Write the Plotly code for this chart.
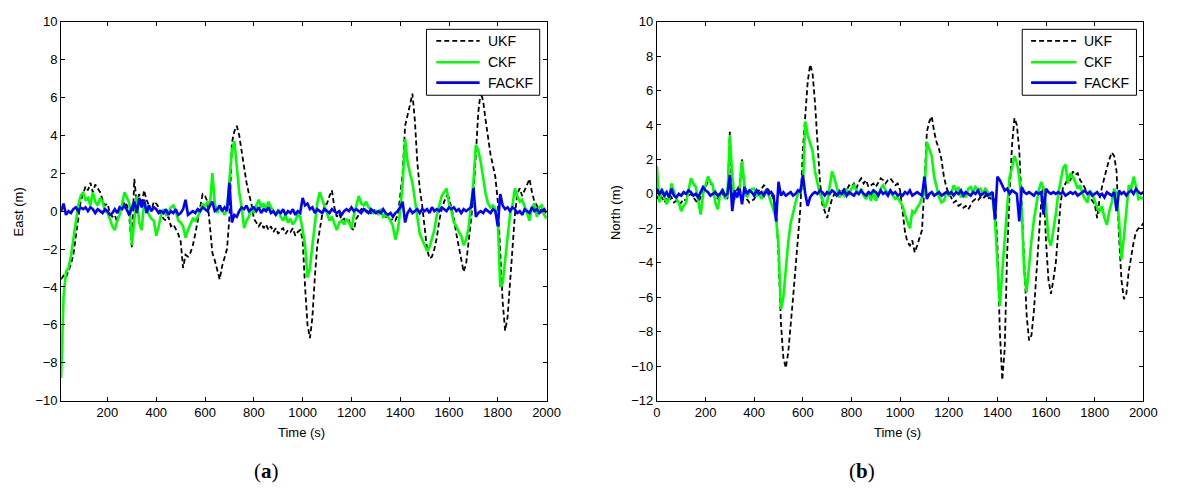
import plotly.graph_objects as go

# ---------------- data ----------------
T_EAST = list(range(10, 2001, 10))
T_NORTH = list(range(0, 2001, 10))

EAST_UKF = [
 -3.6,-3.4,-3.5,-3.2,-2.8,-2.3,-1.4,-0.3,0.5,0.9,
 1.3,1.1,1.5,1.0,1.4,1.2,1.0,0.6,0.3,0.4,
 -0.1,-0.3,-0.2,-0.6,0.1,0.2,0.5,0.3,-0.4,-1.9,
 1.7,0.4,0.9,0.3,1.1,0.6,0.3,0.0,0.5,0.4,
 0.2,-0.2,-0.4,-0.5,-0.3,-0.8,-0.7,-1.0,-1.2,-1.6,
 -3.0,-2.3,-2.4,-2.2,-1.8,-1.2,-0.5,0.2,0.9,0.8,
 0.5,-0.8,-2.2,-2.6,-3.1,-3.6,-2.9,-2.5,-2.0,-0.3,
 3.6,4.2,4.5,4.0,3.2,2.2,1.5,0.9,0.4,-0.4,
 -0.6,-0.8,-0.6,-0.9,-0.7,-1.0,-0.8,-1.1,-0.9,-1.2,
 -1.0,-0.9,-1.2,-1.0,-1.1,-0.9,-1.3,-1.1,-1.0,-1.5,
 -4.0,-6.0,-6.7,-5.6,-3.5,-1.8,-1.0,-0.2,0.3,0.4,
 0.8,1.1,0.2,-0.3,-0.1,-0.5,-0.4,-0.6,-0.5,-0.9,
 -1.0,-0.4,-0.2,0.1,0.2,0.0,0.1,-0.1,0.1,0.0,
 -0.1,0.1,-0.2,-0.3,-0.3,-0.5,-0.4,-0.5,-0.2,0.8,
 2.0,4.5,5.0,5.6,6.2,4.8,2.6,1.2,0.3,-1.0,
 -2.0,-2.5,-2.4,-2.0,-1.4,-0.5,0.1,0.5,0.8,0.7,
 0.2,-0.4,-1.2,-1.9,-2.4,-3.2,-2.8,-1.8,-0.5,0.8,
 3.0,5.2,6.3,5.8,4.8,3.8,3.0,2.4,1.8,0.5,
 -2.0,-4.8,-6.3,-5.6,-3.8,-2.2,-0.2,0.9,1.2,0.8,
 1.1,1.4,1.7,1.0,0.5,0.3,0.0,0.1,-0.2,-0.3,
]

EAST_CKF = [
 -8.8,-4.5,-3.2,-3.0,-2.4,-1.5,-0.4,0.3,0.8,1.0,
 0.6,0.7,0.3,1.0,0.5,0.3,0.7,0.5,0.0,-0.1,
 -0.4,-0.8,-1.0,-0.5,-0.2,0.5,1.0,0.7,0.4,-1.8,
 -0.5,0.8,-0.6,-1.0,0.5,0.2,-0.2,-0.4,-0.5,-1.3,
 -0.8,-0.2,0.1,-0.2,-0.1,0.2,0.3,0.0,-0.5,-0.6,
 -0.8,-1.4,-1.0,-0.7,-0.4,-0.5,-0.3,0.0,0.4,0.2,
 0.5,0.3,2.0,0.4,-0.1,0.3,0.0,-0.2,0.1,1.5,
 3.2,3.7,2.2,1.0,0.2,-0.9,-0.5,-0.3,0.2,-0.1,
 0.3,0.6,0.2,0.4,0.1,0.5,0.2,0.0,-0.2,0.1,
 -0.3,-0.5,-0.2,-0.6,-0.4,-0.7,-0.5,-0.2,-0.3,-1.0,
 -1.8,-3.5,-3.0,-1.8,-0.5,0.4,1.0,0.6,0.2,-0.1,
 -0.5,-0.3,-0.7,-1.0,-0.6,-0.5,-0.7,-0.4,-0.6,-0.9,
 -0.2,0.3,0.8,0.4,0.3,0.5,0.2,0.1,-0.1,0.0,
 -0.2,0.1,-0.3,-0.2,-0.3,-0.5,-0.8,-1.5,-1.0,0.0,
 1.5,3.8,2.6,2.0,1.5,0.6,-0.2,-1.2,-1.5,-1.8,
 -2.1,-1.9,-1.5,-1.0,-0.2,0.3,0.8,1.0,1.2,0.4,
 0.0,-0.6,-0.8,-1.1,-1.3,-1.8,-1.5,-0.9,0.2,1.5,
 3.5,3.2,2.6,1.6,0.9,0.4,0.2,0.3,0.1,-0.5,
 -4.0,-3.8,-2.6,-1.2,-0.2,0.3,1.2,0.8,0.5,0.6,
 0.3,-0.1,-0.5,0.2,0.4,-0.3,0.2,0.3,-0.2,-0.4,
]

EAST_FACKF = [
 0.0,0.4,-0.2,0.0,-0.1,0.1,0.2,0.0,0.2,0.1,
 0.2,0.0,0.2,0.1,-0.1,0.1,0.0,-0.1,0.1,0.0,
 -0.2,-0.1,0.1,-0.1,0.2,0.1,0.3,0.0,-0.2,0.2,
 0.5,-0.1,0.7,0.2,0.6,-0.1,0.3,0.0,0.2,0.1,
 -0.1,0.0,-0.1,0.1,-0.2,0.0,-0.1,0.1,-0.2,-0.1,
 0.1,0.6,-0.2,-0.1,0.0,-0.1,0.1,0.0,0.2,0.1,
 0.0,0.3,0.5,0.0,0.1,0.3,0.0,0.2,0.0,1.5,
 -0.6,-0.2,-0.3,0.0,0.2,0.1,0.3,0.0,0.1,0.2,
 0.0,0.2,-0.1,0.1,0.0,0.2,-0.1,0.0,-0.2,0.0,
 -0.1,0.1,-0.2,0.0,-0.1,0.1,-0.2,0.0,-0.1,0.7,
 0.3,0.4,0.1,0.2,-0.1,0.1,0.0,-0.1,0.1,0.0,
 -0.1,0.1,0.0,-0.1,0.0,-0.2,0.0,0.1,0.0,0.2,
 0.0,0.1,0.0,-0.1,0.1,0.0,-0.1,0.1,0.0,-0.1,
 0.0,-0.1,0.1,-0.1,-0.2,-0.1,-0.3,-0.1,0.0,0.2,
 0.5,-0.6,-0.1,0.1,-0.1,0.0,0.1,-0.1,0.1,0.0,
 0.1,-0.1,0.2,0.0,0.1,0.0,0.2,0.1,0.0,0.2,
 0.1,0.2,0.0,0.1,-0.1,0.1,0.0,0.1,0.2,1.2,
 -0.3,-0.1,0.0,-0.1,0.1,0.0,-0.1,0.1,0.0,-0.8,
 0.9,0.3,0.1,0.2,0.0,0.2,0.1,-0.1,0.0,-0.2,
 0.1,0.0,-0.1,0.2,0.0,0.1,-0.1,0.0,0.1,-0.1,
]

NORTH_UKF = [
 -0.3,0.0,-0.2,-0.5,-0.3,-0.4,-0.2,-0.5,-0.4,-0.6,
 -0.5,-0.3,-0.4,-0.1,0.0,-0.2,-0.4,-0.5,-0.2,0.0,
 0.4,0.7,0.6,0.5,0.1,-0.3,-0.1,0.0,-0.2,-0.3,
 3.6,-0.3,0.0,0.3,0.5,2.0,0.3,-0.3,-0.5,-0.4,
 -0.3,0.0,0.2,0.3,0.5,0.4,0.2,0.0,-0.3,-0.8,
 -3.5,-7.5,-9.5,-10.1,-9.2,-7.8,-6.0,-4.3,-2.5,-0.8,
 2.5,4.8,6.5,7.5,7.0,5.3,3.0,0.8,-0.6,-1.0,
 -1.4,-0.8,-0.3,0.0,-0.1,0.2,0.1,0.3,0.2,0.5,
 0.4,0.6,0.3,0.7,0.9,0.6,0.8,0.4,0.5,0.6,
 0.4,0.7,0.9,0.8,0.6,0.8,0.9,0.7,0.5,0.6,
 0.2,-1.0,-2.2,-2.8,-3.0,-2.7,-3.4,-3.0,-2.5,-2.1,
 0.5,3.6,4.2,4.5,3.6,3.0,2.6,2.0,1.0,0.4,
 0.0,-0.2,-0.5,-0.4,-0.7,-0.6,-0.8,-0.7,-0.9,-0.6,
 -0.4,-0.3,-0.4,-0.2,-0.3,-0.1,-0.3,-0.2,-0.4,-0.3,
 -3.0,-8.0,-10.8,-9.0,-3.5,0.0,2.8,4.4,4.0,2.5,
 -0.8,-4.0,-7.0,-8.5,-8.2,-6.8,-4.5,-2.2,-0.5,0.4,
 -2.8,-5.0,-5.8,-5.0,-4.0,-2.2,-0.5,0.4,0.6,0.9,
 0.8,1.3,1.1,1.2,0.8,0.6,0.3,0.0,-0.2,-0.4,
 -0.6,-1.4,-0.3,0.4,1.0,1.5,2.0,2.4,2.2,1.3,
 -2.5,-5.0,-6.1,-5.8,-4.5,-3.5,-2.8,-2.2,-2.0,-1.9,
 -1.7,
]

NORTH_CKF = [
 1.6,-0.5,0.3,0.0,-0.6,-0.3,0.6,0.2,-0.3,-0.5,
 -1.0,-0.7,-0.5,0.2,0.9,0.6,0.4,-0.4,-1.2,0.0,
 0.5,1.0,0.7,0.5,-0.5,-0.9,0.0,0.3,-0.3,-0.1,
 3.4,1.0,-0.3,0.0,0.2,1.9,0.5,-0.2,0.1,0.3,
 0.3,-0.1,0.0,-0.3,0.1,0.2,-0.1,-0.5,-0.9,-1.4,
 -3.0,-6.7,-6.0,-4.2,-2.8,-1.7,-1.0,-0.5,0.0,0.3,
 0.3,4.2,3.4,3.0,2.5,1.3,0.6,0.0,-0.3,-0.8,
 -0.5,0.4,1.3,0.9,0.4,-0.2,0.1,-0.1,0.2,0.0,
 0.3,0.5,0.2,0.0,0.3,-0.1,-0.3,0.1,-0.4,0.2,
 -0.4,0.0,0.3,0.5,0.2,0.1,0.1,-0.1,-0.3,-0.2,
 -0.5,-0.7,-1.2,-1.6,-2.0,-1.0,-1.1,-0.8,-0.6,-0.2,
 0.0,3.0,2.6,2.2,1.0,0.4,-0.2,-0.5,-0.4,0.1,
 -0.1,0.0,0.5,0.2,0.4,-0.2,0.1,-0.2,0.3,0.4,
 0.1,0.4,0.2,0.3,0.0,0.3,0.1,-0.1,-0.2,-1.5,
 -4.0,-6.5,-4.5,-2.5,-1.0,1.0,1.5,2.2,1.8,1.0,
 -1.0,-4.5,-5.7,-4.0,-2.7,-1.5,-0.5,0.2,0.7,0.3,
 -0.8,-2.6,-3.0,-2.2,-1.2,0.0,0.8,1.5,1.7,0.6,
 1.2,1.0,0.7,0.3,0.5,0.0,-0.3,-0.5,0.2,0.0,
 -0.4,-0.8,-1.0,-0.7,-1.4,-1.8,-1.0,-0.5,0.3,0.0,
 -1.5,-3.8,-2.5,-1.0,0.5,0.3,1.0,0.4,-0.3,-0.2,
 -0.3,
]

NORTH_FACKF = [
 0.3,0.0,0.2,-0.1,0.1,-0.2,0.3,-0.1,-0.2,0.0,
 -0.1,0.1,0.0,0.2,0.1,-0.1,0.0,-0.2,0.1,0.4,
 0.2,0.1,-0.1,0.0,0.1,-0.1,0.0,0.2,-0.1,0.0,
 1.1,-1.0,0.2,-0.2,0.3,-0.6,0.4,0.0,0.2,0.1,
 -0.1,0.2,0.0,0.1,-0.1,0.2,0.0,0.1,-0.1,-1.6,
 0.7,-0.1,0.1,-0.1,0.0,0.1,-0.1,0.0,0.2,0.1,
 1.1,0.0,-0.7,-0.2,0.0,0.1,0.0,0.2,0.1,-0.1,
 0.1,0.0,0.2,0.1,-0.1,0.1,0.0,0.2,-0.1,0.1,
 0.0,-0.1,0.1,0.0,0.2,0.0,-0.1,0.1,0.0,0.2,
 0.1,-0.1,0.2,0.0,0.1,-0.1,0.2,0.0,0.1,-0.1,
 0.0,-0.1,0.1,0.0,0.2,-0.1,0.0,0.1,0.0,-0.1,
 1.0,-0.3,0.0,0.1,-0.1,0.0,0.1,-0.1,0.0,0.1,
 0.0,0.1,-0.1,0.1,0.0,0.2,-0.1,0.1,0.0,-0.1,
 0.1,0.0,0.2,-0.1,0.0,0.1,-0.1,0.0,0.1,-1.5,
 1.0,0.8,0.5,0.2,0.3,0.0,0.2,0.1,0.0,-1.6,
 0.4,0.1,0.0,0.1,0.0,-0.1,0.1,0.0,0.1,-1.2,
 0.3,0.1,0.0,0.1,0.0,0.1,0.0,0.1,-0.1,0.0,
 0.1,0.0,0.1,-0.1,0.0,0.1,0.2,0.0,0.1,-0.1,
 0.0,0.1,-0.1,0.0,-0.2,0.1,0.0,-0.1,0.1,-1.0,
 0.2,0.0,0.1,-0.1,0.1,0.2,0.0,0.3,0.1,0.0,
 0.1,
]

SERIES_NAMES = ["UKF", "CKF", "FACKF"]
X_TICKS_EAST = [200, 400, 600, 800, 1000, 1200, 1400, 1600, 1800, 2000]
X_TICKS_NORTH = [0, 200, 400, 600, 800, 1000, 1200, 1400, 1600, 1800, 2000]
Y_TICKS_EAST = [-10, -8, -6, -4, -2, 0, 2, 4, 6, 8, 10]
Y_TICKS_NORTH = [-12, -10, -8, -6, -4, -2, 0, 2, 4, 6, 8, 10]

# ---------------- figure ----------------
W, H = 1180, 495
FONT = "Liberation Sans, Arial, sans-serif"

styles = [
    dict(color="#000000", width=1.8, dash="5px,3px"),
    dict(color="#00FF00", width=2.6),
    dict(color="#0000FF", width=2.6),
]

fig = go.Figure()
for i, (name, ys) in enumerate(zip(SERIES_NAMES, [EAST_UKF, EAST_CKF, EAST_FACKF])):
    fig.add_trace(go.Scatter(x=T_EAST, y=ys, mode="lines", name=name, line=styles[i],
                             xaxis="x", yaxis="y", showlegend=False))
for i, (name, ys) in enumerate(zip(SERIES_NAMES, [NORTH_UKF, NORTH_CKF, NORTH_FACKF])):
    fig.add_trace(go.Scatter(x=T_NORTH, y=ys, mode="lines", name=name, line=styles[i],
                             xaxis="x2", yaxis="y2", showlegend=False))

def px_x(p):
    return p / W

def px_y(p):
    return (H - p) / H

axis_common = dict(
    showline=True, linecolor="black", linewidth=1, mirror="ticks",
    ticks="inside", ticklen=4, tickcolor="black", tickwidth=1,
    showgrid=False, zeroline=False,
    tickfont=dict(family=FONT, size=13, color="black"),
)

fig.update_layout(
    width=W, height=H,
    margin=dict(l=0, r=0, t=0, b=0),
    paper_bgcolor="white", plot_bgcolor="white",
    showlegend=False,
    xaxis=dict(domain=[px_x(58), px_x(551)], range=[10, 2000], tickvals=X_TICKS_EAST,
               anchor="y", **axis_common),
    yaxis=dict(domain=[px_y(406), px_y(15)], range=[-10, 10], tickvals=Y_TICKS_EAST,
               anchor="x", **axis_common),
    xaxis2=dict(domain=[px_x(663), px_x(1157)], range=[0, 2000], tickvals=X_TICKS_NORTH,
                anchor="y2", **axis_common),
    yaxis2=dict(domain=[px_y(406), px_y(15)], range=[-12, 10], tickvals=Y_TICKS_NORTH,
                anchor="x2", **axis_common),
)

# legend boxes (drawn in pixel-based paper coordinates)
shapes = []
ann = []
LEGENDS = [
    dict(box=(429, 23, 544, 91), line=(439, 483), text_x=489),
    dict(box=(1034, 23, 1150, 91), line=(1043, 1089), text_x=1095),
]
ROW_Y = [35, 57, 78]
for lg in LEGENDS:
    x0, y0, x1, y1 = lg["box"]
    shapes.append(dict(type="rect", xref="paper", yref="paper",
                       x0=px_x(x0), x1=px_x(x1), y0=px_y(y1), y1=px_y(y0),
                       line=dict(color="black", width=1), fillcolor="white", layer="above"))
    for name, st, ry in zip(SERIES_NAMES, styles, ROW_Y):
        shapes.append(dict(type="line", xref="paper", yref="paper",
                           x0=px_x(lg["line"][0]), x1=px_x(lg["line"][1]),
                           y0=px_y(ry), y1=px_y(ry), layer="above",
                           line=dict(color=st["color"], width=st["width"],
                                     dash=st.get("dash", "solid"))))
        ann.append(dict(text=name, x=px_x(lg["text_x"]), y=px_y(ry), xanchor="left",
                        font=dict(family=FONT, size=14, color="black")))

ann.append(dict(text="East (m)", x=px_x(15), y=px_y(211), textangle=-90))
ann.append(dict(text="North (m)", x=px_x(621), y=px_y(212), textangle=-90))
ann.append(dict(text="Time (s)", x=px_x(302), y=px_y(439)))
ann.append(dict(text="Time (s)", x=px_x(907), y=px_y(439)))
for a in ann:
    a.setdefault("xanchor", "center")
    a.setdefault("font", dict(family=FONT, size=13, color="black"))
    a.update(xref="paper", yref="paper", showarrow=False, yanchor="middle")

ann += [
    dict(text="(<b>a</b>)", x=px_x(267), y=px_y(478), xref="paper", yref="paper", showarrow=False,
         xanchor="center", yanchor="middle", font=dict(family="Liberation Serif, serif", size=21, color="black")),
    dict(text="(<b>b</b>)", x=px_x(871), y=px_y(478), xref="paper", yref="paper", showarrow=False,
         xanchor="center", yanchor="middle", font=dict(family="Liberation Serif, serif", size=21, color="black")),
]
fig.update_layout(shapes=shapes, annotations=ann)

fig.write_html("out.html")
